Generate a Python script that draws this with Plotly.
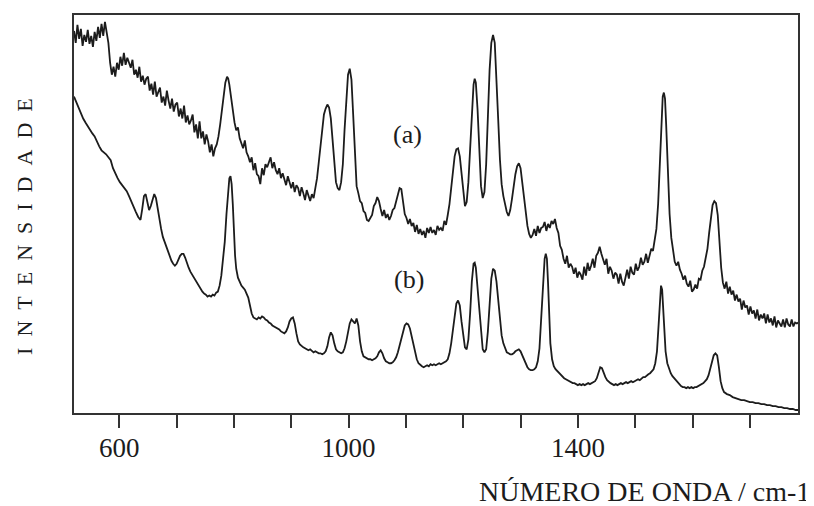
import plotly.graph_objects as go

# ---- data (wavenumber / cm-1, intensity in arbitrary units) ----
wn_a = [521,524,527,530,533,536,539,542,545,548,551,554,557,560,563,566,569,572,575,578,
        581,584,587,590,593,596,599,602,605,608,611,614,617,620,623,626,629,632,635,638,
        641,644,647,650,653,656,659,662,665,668,671,674,677,680,683,686,689,692,695,698,
        701,704,707,710,713,716,719,722,725,728,731,734,737,740,743,746,749,752,755,758,
        761,764,767,770,773,776,779,782,785,788,790,792,795,798,801,804,807,810,813,816,
        819,822,825,828,831,834,837,840,843,846,849,852,855,858,861,864,867,870,873,876,
        879,882,885,888,891,894,897,900,903,906,909,912,915,918,921,924,927,930,933,936,
        939,942,945,948,951,954,957,960,963,966,969,972,975,978,981,984,987,990,993,996,
        999,1002,1005,1008,1011,1014,1017,1020,1023,1026,1029,1032,1035,1038,1041,1044,1047,1050,1053,1056,
        1059,1062,1065,1068,1071,1074,1077,1080,1083,1086,1089,1092,1095,1098,1101,1104,1107,1110,1113,1116,
        1119,1122,1125,1128,1131,1134,1137,1140,1143,1146,1149,1152,1155,1158,1161,1164,1167,1170,1173,1176,
        1179,1182,1185,1188,1191,1194,1197,1200,1203,1206,1209,1212,1215,1218,1220,1222,1225,1228,1231,1234,
        1237,1240,1243,1246,1249,1252,1255,1258,1261,1264,1267,1270,1273,1276,1279,1282,1285,1288,1291,1294,
        1297,1300,1303,1306,1309,1312,1315,1318,1321,1324,1327,1330,1333,1336,1339,1342,1345,1348,1351,1354,
        1357,1360,1363,1366,1369,1372,1375,1378,1381,1384,1387,1390,1393,1396,1399,1402,1405,1408,1411,1414,
        1417,1420,1423,1426,1429,1432,1435,1438,1441,1444,1447,1450,1453,1456,1459,1462,1465,1468,1471,1474,
        1477,1480,1483,1486,1489,1492,1495,1498,1501,1504,1507,1510,1513,1516,1519,1522,1525,1528,1531,1534,
        1537,1540,1543,1546,1548,1550,1552,1554,1557,1560,1563,1566,1569,1572,1575,1578,1581,1584,1587,1590,
        1593,1596,1599,1602,1605,1608,1611,1614,1617,1620,1623,1626,1629,1632,1635,1638,1641,1644,1647,1650,
        1653,1656,1659,1662,1665,1668,1671,1674,1677,1680,1683,1686,1689,1692,1695,1698,1701,1704,1707,1710,
        1713,1716,1719,1722,1725,1728,1731,1734,1737,1740,1743,1746,1749,1752,1755,1758,1761,1764,1767,1770,
        1773,1776,1779,1782,1784]
int_a = [384,372,390,376,386,369,380,373,385,371,379,368,383,374,388,377,391,379,393,383,
         372,352,340,348,338,352,345,358,349,362,350,357,352,347,355,340,345,337,348,333,
         339,330,336,338,324,331,320,333,318,322,327,312,318,309,324,314,306,316,303,310,
         312,298,306,296,309,292,299,290,294,300,282,290,276,293,276,283,270,280,273,262,
         270,258,266,270,278,290,305,322,332,338,336,330,318,302,292,284,287,276,270,266,
         274,262,258,252,257,244,251,240,238,230,246,239,250,247,252,257,246,252,244,240,
         246,236,241,235,229,238,233,226,232,222,229,226,218,227,221,214,224,219,213,220,
         216,226,236,252,270,288,300,306,310,307,296,275,250,232,226,224,232,250,285,320,
         340,346,335,300,255,228,221,213,211,203,201,194,193,196,199,208,211,217,213,205,
         198,204,196,200,194,198,204,206,212,218,226,225,212,200,196,190,195,188,191,182,
         189,180,185,179,183,176,186,181,187,181,184,179,188,184,186,183,193,189,199,210,
         226,244,258,265,266,258,240,220,208,212,232,265,305,330,336,332,305,260,228,216,
         222,250,300,345,372,380,372,340,295,255,230,218,210,202,198,204,215,228,240,248,
         251,246,232,215,200,188,180,176,179,185,178,188,181,186,187,192,183,190,186,193,
         190,195,186,181,168,164,155,150,158,146,150,147,140,146,136,142,139,134,147,138,
         151,143,148,155,146,158,161,167,160,153,149,155,140,147,143,135,141,139,130,140,
         132,128,137,144,135,147,141,139,150,143,147,156,149,152,160,151,158,165,163,172,
         185,210,250,295,318,322,316,290,240,200,176,162,152,148,152,144,140,134,138,130,
         127,133,122,124,129,125,135,134,143,147,157,165,181,195,209,213,211,199,170,146,
         131,125,132,120,127,119,123,113,119,112,115,104,113,106,108,99,107,100,103,95,
         104,93,99,95,100,90,99,91,95,88,97,86,93,90,87,94,86,95,89,87,
         94,87,91,90,91]

wn_b = [521,525,529,533,537,541,545,549,553,557,561,565,569,573,577,581,585,589,593,597,
        601,605,609,613,617,621,625,629,633,637,640,643,646,649,652,655,658,661,664,667,
        670,673,676,679,682,685,688,691,694,697,700,703,706,709,712,715,718,721,724,727,
        730,733,736,739,742,745,748,751,754,757,760,763,766,769,772,775,778,781,784,787,
        790,792,794,796,798,800,802,804,807,810,813,816,819,822,825,828,831,834,837,840,
        843,846,849,852,855,858,861,864,867,870,873,876,879,882,885,888,891,894,897,900,
        903,906,909,912,915,918,921,924,927,930,933,936,939,942,945,948,951,954,957,960,
        963,966,969,972,975,978,981,984,987,990,993,996,999,1002,1005,1008,1011,1014,1017,1020,
        1023,1026,1029,1032,1035,1038,1041,1044,1047,1050,1053,1056,1059,1062,1065,1068,1071,1074,1077,1080,
        1083,1086,1089,1092,1095,1098,1101,1104,1107,1110,1113,1116,1119,1122,1125,1128,1131,1134,1137,1140,
        1143,1146,1149,1152,1155,1158,1161,1164,1167,1170,1173,1176,1179,1182,1185,1188,1191,1194,1197,1200,
        1203,1206,1209,1212,1215,1218,1220,1222,1225,1228,1231,1234,1237,1240,1243,1246,1249,1252,1255,1258,
        1261,1264,1267,1270,1273,1276,1279,1282,1285,1288,1291,1294,1297,1300,1303,1306,1309,1312,1315,1318,
        1321,1324,1327,1330,1333,1336,1339,1342,1344,1346,1348,1350,1352,1355,1358,1361,1364,1367,1370,1373,
        1376,1379,1382,1385,1388,1391,1394,1397,1400,1403,1406,1409,1412,1415,1418,1421,1424,1427,1430,1433,
        1436,1439,1442,1445,1448,1451,1454,1457,1460,1463,1466,1469,1472,1475,1478,1481,1484,1487,1490,1493,
        1496,1499,1502,1505,1508,1511,1514,1517,1520,1523,1526,1529,1532,1535,1538,1541,1543,1545,1547,1549,
        1551,1553,1556,1559,1562,1565,1568,1571,1574,1577,1580,1583,1586,1589,1592,1595,1598,1601,1604,1607,
        1610,1613,1616,1619,1622,1625,1628,1631,1634,1637,1640,1643,1646,1649,1652,1655,1660,1665,1670,1675,
        1680,1685,1690,1695,1700,1705,1710,1715,1720,1725,1730,1735,1740,1745,1750,1755,1760,1765,1770,1775,
        1780,1784]
int_b = [318,312,306,302,296,292,288,284,281,278,272,268,264,262,260,257,254,246,240,236,
         232,229,226,223,218,212,206,202,197,194,205,218,220,210,204,208,214,220,216,205,
         195,185,177,172,168,164,158,153,150,148,150,155,158,160,160,156,150,146,142,139,
         136,133,130,127,125,122,120,119,117,118,117,119,118,121,122,128,138,152,172,200,
         226,236,238,230,210,180,158,145,136,132,128,126,124,120,116,108,100,96,95,94,
         96,95,97,96,94,93,91,90,88,87,86,85,84,82,81,80,82,86,92,95,
         96,90,80,72,69,67,66,65,64,63,64,62,61,62,61,60,60,59,60,62,
         67,76,81,78,70,64,62,61,60,61,65,72,82,90,94,92,90,95,88,72,
         62,57,56,55,54,54,53,54,55,57,61,63,60,55,52,51,50,50,51,53,
         56,61,68,76,83,88,90,89,85,77,68,60,54,50,48,47,46,47,48,47,
         49,48,49,48,49,50,49,50,51,52,54,60,70,85,100,110,113,108,92,76,
         66,64,74,100,132,150,151,146,125,98,76,64,61,64,82,110,135,145,143,132,
         112,92,78,70,65,61,60,59,59,60,62,63,64,62,58,54,50,46,44,43,
         43,44,46,52,65,92,130,155,160,155,130,95,70,54,47,44,42,40,38,36,
         35,34,33,32,31,30,30,29,28,29,28,29,28,29,30,29,30,31,32,35,
         40,46,45,40,36,33,31,30,29,28,29,28,29,30,29,30,31,30,31,32,
         31,32,33,34,33,35,36,36,38,39,40,42,44,50,62,90,115,128,124,105,
         80,62,50,44,40,37,35,32,30,28,27,26,26,25,26,25,26,25,26,26,
         27,28,29,30,32,34,38,44,52,58,60,58,46,32,25,21,19,18,16,15,
         14,13,13,12,11,11,10,10,9,9,8,8,7,7,6,6,5,5,4,4,
         3,3]

tick_values = [600, 700, 800, 900, 1000, 1100, 1200, 1300, 1400, 1500, 1600, 1700]
tick_labels = ["600", "", "", "", "1000", "", "", "", "1400", "", "", ""]
label_a = "(a)"
label_b = "(b)"

FONT = "Liberation Serif, Times New Roman, serif"
INK = "#1c1c1c"

fig = go.Figure()
fig.add_trace(go.Scatter(x=wn_a, y=int_a, mode="lines",
                         line=dict(color=INK, width=1.8), showlegend=False))
fig.add_trace(go.Scatter(x=wn_b, y=int_b, mode="lines",
                         line=dict(color=INK, width=1.8), showlegend=False))

fig.add_annotation(x=1103, y=280, xref="x", yref="y", text=label_a, showarrow=False,
                   font=dict(family=FONT, size=26, color=INK))
fig.add_annotation(x=1105, y=134, xref="x", yref="y", text=label_b, showarrow=False,
                   font=dict(family=FONT, size=26, color=INK))

fig.add_annotation(x=1.019, y=-0.1975, xref="paper", yref="paper", xanchor="right",
                   yanchor="middle", showarrow=False,
                   text="NÚMERO DE ONDA / cm-1",
                   font=dict(family=FONT, size=28, color=INK))
fig.add_annotation(x=-0.0677, y=0.47, xref="paper", yref="paper", xanchor="center",
                   yanchor="middle", showarrow=False, textangle=-90,
                   text="\u2002".join(list("INTENSIDADE")),
                   font=dict(family=FONT, size=22, color=INK))

fig.update_layout(
    width=806, height=498,
    margin=dict(l=66, r=16, t=5, b=93),
    paper_bgcolor="white", plot_bgcolor="white",
    font=dict(family=FONT, color=INK),
)
fig.update_xaxes(range=[521, 1784], tickvals=tick_values, ticktext=tick_labels,
                 ticks="outside", ticklen=13, tickwidth=2, tickcolor="#333",
                 showline=True, linecolor="#333", linewidth=2, mirror=True,
                 showgrid=False, zeroline=False, ticklabelstandoff=-3,
                 tickfont=dict(family=FONT, size=27, color=INK))
fig.update_yaxes(range=[0, 400], showticklabels=False, ticks="",
                 showline=True, linecolor="#333", linewidth=2, mirror=True,
                 showgrid=False, zeroline=False)

fig.write_html("out.html")
